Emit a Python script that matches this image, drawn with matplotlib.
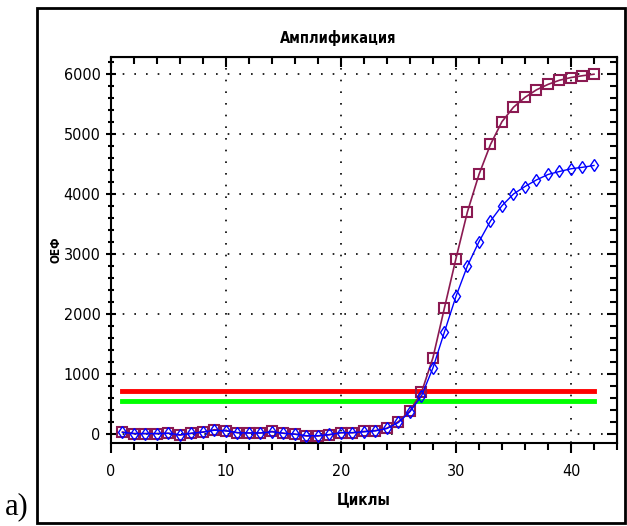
import matplotlib
matplotlib.use("Agg")
import matplotlib.pyplot as plt
from matplotlib.patches import Rectangle
from matplotlib.ticker import MultipleLocator
import numpy as np

plt.rcParams['font.family'] = ['DejaVu Sans']
plt.rcParams['font.stretch'] = 'condensed'

# PCR cycles and fluorescence readings
cycles = np.arange(1, 43)
sample_a = [30, 5, 5, 5, 10, -20, 10, 30, 70, 55, 20, 15, 15, 40,
            10, -5, -35, -35, -15, 20, 20, 40, 55, 95, 205, 385,
            690, 1270, 2100, 2920, 3700, 4320, 4820, 5200, 5440, 5605,
            5730, 5820, 5890, 5935, 5965, 5990]
sample_b = [25, 5, 5, 5, 10, -15, 10, 30, 60, 50, 20, 15, 15, 35,
            10, -5, -30, -30, -10, 20, 20, 35, 50, 90, 190, 370,
            630, 1100, 1700, 2290, 2800, 3200, 3545, 3800, 3995, 4120,
            4230, 4320, 4370, 4415, 4440, 4470]
threshold_red = 720
threshold_green = 540

fig = plt.figure(figsize=(6.27, 5.26), dpi=100)
ax = fig.add_axes([0.177, 0.158, 0.807, 0.734])

# outer frame of the scanned figure
fig.patches.append(Rectangle((0.059, 0.006), 0.938, 0.979, transform=fig.transFigure,
                             fill=False, edgecolor='black', linewidth=2))

ax.plot([cycles[0], cycles[-1]], [threshold_red] * 2, color='#ff0000', lw=3.5, zorder=2)
ax.plot([cycles[0], cycles[-1]], [threshold_green] * 2, color='#00ff00', lw=3.5, zorder=2)

ax.plot(cycles, sample_a, color='#8b1a52', lw=1.2, marker='s', ms=7,
        mfc='none', mec='#8b1a52', mew=1.5, zorder=3)
ax.plot(cycles, sample_b, color='#0000ff', lw=1.0, marker='d', ms=6.5,
        mfc='none', mec='#0000ff', mew=1.0, zorder=4)

ax.set_xlim(0, 44)
ax.set_ylim(-150, 6280)
ax.xaxis.set_major_locator(MultipleLocator(10))
ax.xaxis.set_minor_locator(MultipleLocator(2))
ax.yaxis.set_major_locator(MultipleLocator(1000))
ax.yaxis.set_minor_locator(MultipleLocator(200))
ax.grid(True, which='major', color='black', linestyle=(0, (1, 6)), linewidth=1.2)

ax.tick_params(which='both', labelsize=11.5, width=1.5)
ax.tick_params(which='major', length=7)
ax.tick_params(which='minor', length=5)
ax.tick_params(axis='x', which='both', direction='out', pad=8)
ax.tick_params(axis='y', which='both', direction='inout', pad=4)
for spine in ax.spines.values():
    spine.set_linewidth(1.5)

# top and right ticks point inwards
top = ax.secondary_xaxis('top')
top.xaxis.set_major_locator(MultipleLocator(10))
top.xaxis.set_minor_locator(MultipleLocator(2))
top.tick_params(which='both', direction='in', width=1.5, labeltop=False)
top.tick_params(which='major', length=7)
top.tick_params(which='minor', length=5)
right = ax.secondary_yaxis('right')
right.yaxis.set_major_locator(MultipleLocator(1000))
right.yaxis.set_minor_locator(MultipleLocator(200))
right.tick_params(which='both', direction='in', width=1.5, labelright=False)
right.tick_params(which='major', length=7)
right.tick_params(which='minor', length=5)

ax.set_title('Амплификация', fontsize=10.5, fontweight='bold', pad=10, x=0.45)
ax.set_xlabel('Циклы', fontsize=11, fontweight='bold', labelpad=10)
ax.set_ylabel('ОЕФ', fontsize=8.5, fontweight='bold', labelpad=1)

fig.text(0.008, 0.022, 'а)', fontsize=22, family=['Liberation Serif', 'DejaVu Serif'])

fig.savefig('out.png', dpi=100)
